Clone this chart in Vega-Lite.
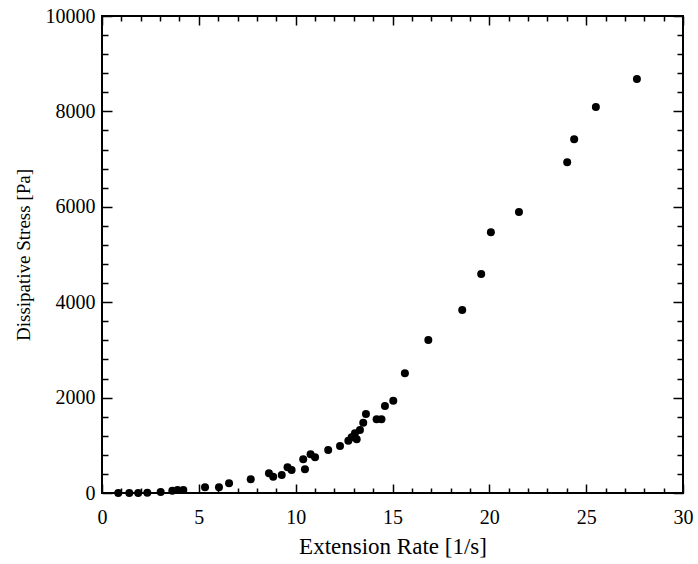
{
  "$schema": "https://vega.github.io/schema/vega-lite/v6.json",
  "width": 581,
  "height": 477,
  "autosize": "none",
  "padding": {"left": 102, "top": 16, "right": 15, "bottom": 71},
  "background": "white",
  "config": {
    "view": {"stroke": "black", "strokeWidth": 2},
    "font": "Liberation Serif",
    "axis": {
      "domain": false,
      "grid": false,
      "ticks": true,
      "tickColor": "black",
      "tickWidth": 1.5,
      "labelColor": "#000000",
      "titleColor": "#000000",
      "labelFont": "Liberation Serif",
      "titleFont": "Liberation Serif",
      "labelFontSize": 20,
      "titleFontSize": 19,
      "titleFontWeight": "normal",
      "labelOverlap": false,
      "labelFlush": false,
      "labelBound": false
    }
  },
  "data": {
    "values": [
      {"rate": 0.84, "stress": 0},
      {"rate": 1.41, "stress": 0},
      {"rate": 1.87, "stress": 0},
      {"rate": 2.34, "stress": 5},
      {"rate": 3.03, "stress": 21},
      {"rate": 3.63, "stress": 48},
      {"rate": 3.9, "stress": 63},
      {"rate": 4.2, "stress": 63},
      {"rate": 5.32, "stress": 119},
      {"rate": 6.04, "stress": 119},
      {"rate": 6.56, "stress": 203},
      {"rate": 7.68, "stress": 287},
      {"rate": 8.62, "stress": 413},
      {"rate": 8.84, "stress": 342},
      {"rate": 9.28, "stress": 377},
      {"rate": 9.58, "stress": 538},
      {"rate": 9.79, "stress": 482},
      {"rate": 10.39, "stress": 706},
      {"rate": 10.48, "stress": 497},
      {"rate": 10.77, "stress": 811},
      {"rate": 11.0, "stress": 748},
      {"rate": 11.68, "stress": 901},
      {"rate": 12.29, "stress": 985},
      {"rate": 12.72, "stress": 1097},
      {"rate": 12.89, "stress": 1168},
      {"rate": 13.15, "stress": 1126},
      {"rate": 13.06, "stress": 1251},
      {"rate": 13.32, "stress": 1321},
      {"rate": 13.49, "stress": 1474},
      {"rate": 13.63, "stress": 1656},
      {"rate": 14.18, "stress": 1545},
      {"rate": 14.43, "stress": 1545},
      {"rate": 14.61, "stress": 1824},
      {"rate": 15.04, "stress": 1935},
      {"rate": 15.64, "stress": 2509},
      {"rate": 16.85, "stress": 3208},
      {"rate": 18.6, "stress": 3836},
      {"rate": 19.58, "stress": 4591},
      {"rate": 20.08, "stress": 5465},
      {"rate": 21.53, "stress": 5891},
      {"rate": 24.02, "stress": 6932},
      {"rate": 24.38, "stress": 7415},
      {"rate": 25.5, "stress": 8092},
      {"rate": 27.62, "stress": 8679}
    ]
  },
  "resolve": {"axis": {"x": "independent", "y": "independent"}},
  "layer": [
    {
      "mark": {"type": "circle", "color": "black", "opacity": 1, "size": 64},
      "encoding": {
        "x": {
          "field": "rate", "type": "quantitative",
          "scale": {"domain": [0, 30], "nice": false, "zero": false},
          "axis": {
            "orient": "bottom",
            "title": "Extension Rate [1/s]",
            "titleFontSize": 23,
            "titlePadding": 8,
            "values": [0, 5, 10, 15, 20, 25, 30],
            "tickSize": -9,
            "labelPadding": 23,
            "format": "d"
          }
        },
        "y": {
          "field": "stress", "type": "quantitative",
          "scale": {"domain": [0, 10000], "nice": false, "zero": false},
          "axis": {
            "orient": "left",
            "title": "Dissipative Stress [Pa]",
            "titlePadding": 12,
            "values": [0, 2000, 4000, 6000, 8000, 10000],
            "tickSize": -10,
            "labelPadding": 17,
            "format": "d"
          }
        }
      }
    },
    {
      "mark": {"type": "circle", "opacity": 0},
      "encoding": {
        "x": {
          "field": "rate", "type": "quantitative",
          "axis": {
            "orient": "bottom", "title": null, "labels": false,
            "values": [1,2,3,4,6,7,8,9,11,12,13,14,16,17,18,19,21,22,23,24,26,27,28,29],
            "tickSize": -5
          }
        },
        "y": {
          "field": "stress", "type": "quantitative",
          "axis": {
            "orient": "left", "title": null, "labels": false,
            "values": [400,800,1200,1600,2400,2800,3200,3600,4400,4800,5200,5600,6400,6800,7200,7600,8400,8800,9200,9600],
            "tickSize": -6
          }
        }
      }
    },
    {
      "mark": {"type": "circle", "opacity": 0},
      "encoding": {
        "x": {
          "field": "rate", "type": "quantitative",
          "axis": {
            "orient": "top", "title": null, "labels": false,
            "values": [0, 5, 10, 15, 20, 25, 30],
            "tickSize": -9
          }
        },
        "y": {
          "field": "stress", "type": "quantitative",
          "axis": {
            "orient": "right", "title": null, "labels": false,
            "values": [0, 2000, 4000, 6000, 8000, 10000],
            "tickSize": -10
          }
        }
      }
    },
    {
      "mark": {"type": "circle", "opacity": 0},
      "encoding": {
        "x": {
          "field": "rate", "type": "quantitative",
          "axis": {
            "orient": "top", "title": null, "labels": false,
            "values": [1,2,3,4,6,7,8,9,11,12,13,14,16,17,18,19,21,22,23,24,26,27,28,29],
            "tickSize": -5
          }
        },
        "y": {
          "field": "stress", "type": "quantitative",
          "axis": {
            "orient": "right", "title": null, "labels": false,
            "values": [400,800,1200,1600,2400,2800,3200,3600,4400,4800,5200,5600,6400,6800,7200,7600,8400,8800,9200,9600],
            "tickSize": -6
          }
        }
      }
    }
  ]
}
